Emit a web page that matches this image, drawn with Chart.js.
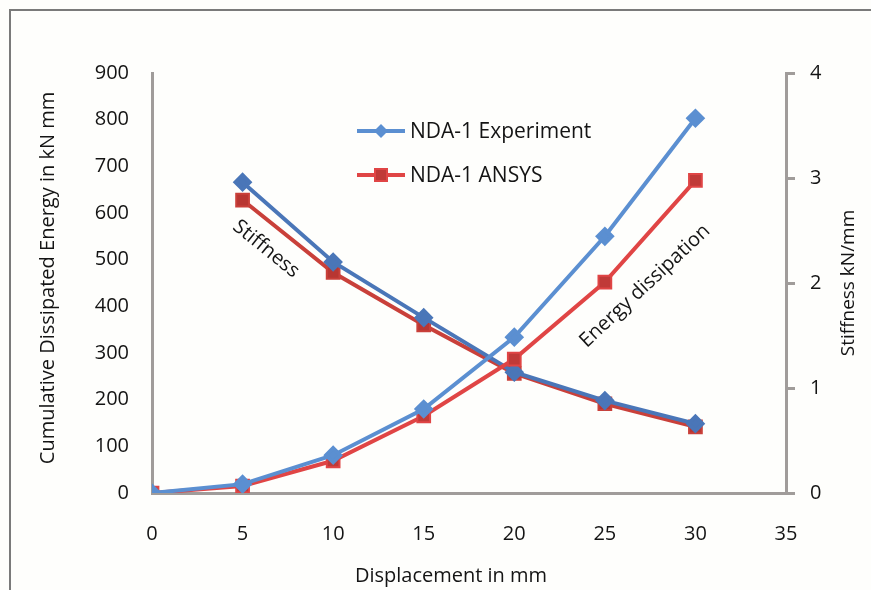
<!DOCTYPE html>
<html>
<head>
<meta charset="utf-8">
<script src="https://cdn.jsdelivr.net/npm/chart.js@4"></script>
<style>
    html, body { margin: 0; padding: 0; background: #fefefc; }
    #wrap { width: 871px; height: 590px; position: relative; }
</style>
</head>
<body>
<div id="wrap"><canvas id="hystChart" width="871" height="590"></canvas></div>
<script>
const displacement = [0, 5, 10, 15, 20, 25, 30];
const energyExperiment = [0, 19, 81, 180, 334, 550, 803];
const energyAnsys = [0, 15, 69, 165, 287, 452, 670];

const stiffDisplacement = [5, 10, 15, 20, 25, 30];
const stiffExperiment = [2.96, 2.2, 1.67, 1.15, 0.88, 0.66];
const stiffAnsys = [2.79, 2.1, 1.6, 1.14, 0.85, 0.63];

const xTicks = [0, 5, 10, 15, 20, 25, 30, 35];
const energyTicks = [0, 100, 200, 300, 400, 500, 600, 700, 800, 900];
const stiffTicks = [0, 1, 2, 3, 4];

const FONT = "'Open Sans', sans-serif";
const AXIS_GREY = "#a09c9a";
const TEXT = "#141414";

function toPoints(xs, ys) {
    return xs.map((x, i) => ({ x: x, y: ys[i] }));
}

// frame, legend, annotations and axis titles
const decorations = {
    id: "decorations",
    beforeDraw(chart) {
        const ctx = chart.ctx;
        ctx.save();
        ctx.fillStyle = "#fefefc";
        ctx.fillRect(0, 0, chart.width, chart.height);
        ctx.strokeStyle = "#7a7a7a";
        ctx.lineWidth = 2;
        ctx.beginPath();
        ctx.moveTo(10, chart.height);
        ctx.lineTo(10, 10);
        ctx.lineTo(chart.width, 10);
        ctx.stroke();
        ctx.restore();
    },
    afterDraw(chart) {
        const ctx = chart.ctx;
        ctx.save();
        ctx.fillStyle = TEXT;
        ctx.font = "20px " + FONT;
        ctx.textAlign = "center";
        ctx.textBaseline = "middle";

        ctx.save();
        ctx.translate(48, 278);
        ctx.rotate(-Math.PI / 2);
        ctx.fillText("Cumulative Dissipated Energy in kN mm", 0, 0);
        ctx.restore();

        ctx.save();
        ctx.translate(849, 283);
        ctx.rotate(-Math.PI / 2);
        ctx.font = "19px " + FONT;
        ctx.fillText("Stiffness kN/mm", 0, 0);
        ctx.restore();

        ctx.fillText("Displacement in mm", 451, 576);

        ctx.save();
        ctx.translate(266, 249);
        ctx.rotate(39 * Math.PI / 180);
        ctx.fillText("Stiffness", 0, 0);
        ctx.restore();

        ctx.save();
        ctx.translate(645, 286);
        ctx.rotate(-43 * Math.PI / 180);
        ctx.fillText("Energy dissipation", 0, 0);
        ctx.restore();

        // legend
        const items = [
            { label: "NDA-1 Experiment", color: "#5b8fd1", fill: "#5b8fd1", y: 131, shape: "diamond" },
            { label: "NDA-1 ANSYS", color: "#e04545", fill: "#c03a38", y: 175, shape: "square" }
        ];
        items.forEach(it => {
            ctx.strokeStyle = it.color;
            ctx.lineWidth = 4;
            ctx.beginPath();
            ctx.moveTo(357, it.y);
            ctx.lineTo(405, it.y);
            ctx.stroke();
            ctx.fillStyle = it.fill;
            ctx.beginPath();
            if (it.shape === "diamond") {
                ctx.moveTo(381, it.y - 7);
                ctx.lineTo(388, it.y);
                ctx.lineTo(381, it.y + 7);
                ctx.lineTo(374, it.y);
                ctx.closePath();
                ctx.fill();
            } else {
                ctx.rect(375, it.y - 6, 12, 12);
                ctx.fill();
                ctx.strokeStyle = it.color;
                ctx.lineWidth = 2;
                ctx.stroke();
            }
            ctx.fillStyle = TEXT;
            ctx.textAlign = "left";
            ctx.font = "21px " + FONT;
            ctx.fillText(it.label, 410, it.y + 1);
        });
        ctx.restore();
    }
};

new Chart(document.getElementById("hystChart"), {
    type: "line",
    data: {
        datasets: [
            {
                label: "NDA-1 Experiment",
                data: toPoints(displacement, energyExperiment),
                yAxisID: "yEnergy",
                borderColor: "#5b8fd1",
                backgroundColor: "#5b8fd1",
                pointStyle: "rectRot",
                pointRadius: 7,
                borderWidth: 4
            },
            {
                label: "NDA-1 ANSYS",
                data: toPoints(displacement, energyAnsys),
                yAxisID: "yEnergy",
                borderColor: "#e04545",
                backgroundColor: "#c03a38",
                pointStyle: "rect",
                pointRadius: 9,
                pointBorderWidth: 2,
                borderWidth: 4
            },
            {
                label: "NDA-1 Experiment stiffness",
                data: toPoints(stiffDisplacement, stiffExperiment),
                yAxisID: "yStiff",
                borderColor: "#4a76b8",
                backgroundColor: "#4a76b8",
                pointStyle: "rectRot",
                pointRadius: 7,
                borderWidth: 4
            },
            {
                label: "NDA-1 ANSYS stiffness",
                data: toPoints(stiffDisplacement, stiffAnsys),
                yAxisID: "yStiff",
                borderColor: "#c9403a",
                backgroundColor: "#b83632",
                pointStyle: "rect",
                pointRadius: 9,
                pointBorderWidth: 2,
                borderWidth: 4
            }
        ]
    },
    options: {
        responsive: false,
        animation: false,
        layout: { padding: { top: 73, left: 0, right: 0, bottom: 0 } },
        plugins: {
            legend: { display: false },
            tooltip: { enabled: false }
        },
        scales: {
            x: {
                type: "linear",
                min: 0,
                max: 35,
                afterBuildTicks: s => { s.ticks = xTicks.map(v => ({ value: v })); },
                afterFit: s => { s.height = 97; },
                grid: { display: false },
                border: { color: AXIS_GREY, width: 3 },
                ticks: { color: TEXT, padding: 21, maxRotation: 0, font: { family: FONT, size: 20 } }
            },
            yEnergy: {
                position: "left",
                min: 0,
                max: 900,
                afterBuildTicks: s => { s.ticks = energyTicks.map(v => ({ value: v })); },
                afterFit: s => { s.width = 152; },
                grid: { display: false },
                border: { color: AXIS_GREY, width: 3 },
                ticks: { color: TEXT, padding: 15, font: { family: FONT, size: 20 } }
            },
            yStiff: {
                position: "right",
                min: 0,
                max: 4,
                afterBuildTicks: s => { s.ticks = stiffTicks.map(v => ({ value: v })); },
                afterFit: s => { s.width = 85; },
                grid: { drawOnChartArea: false, color: AXIS_GREY, lineWidth: 3, tickLength: 9 },
                border: { color: AXIS_GREY, width: 3 },
                ticks: { color: TEXT, padding: 15, font: { family: FONT, size: 20 } }
            }
        }
    },
    plugins: [decorations]
});
</script>
</body>
</html>
